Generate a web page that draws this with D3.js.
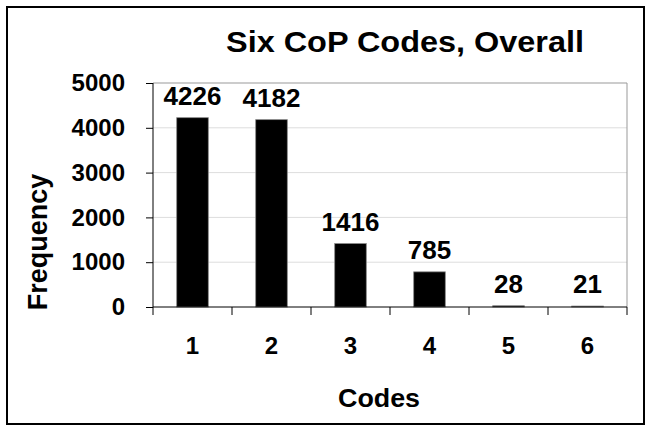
<!DOCTYPE html>
<html>
<head>
<meta charset="utf-8">
<script src="https://cdn.jsdelivr.net/npm/d3@7"></script>
<style>
  body { margin: 0; background: #fff; }
  text { font-family: "Liberation Sans", Arial, sans-serif; font-weight: bold; fill: #000; }
</style>
</head>
<body>
<svg id="chart" width="650" height="431"></svg>
<script>
let codes = ['1', '2', '3', '4', '5', '6']
let frequency = [4226, 4182, 1416, 785, 28, 21]
let yTicks = [0, 1000, 2000, 3000, 4000, 5000]

let svg = d3.select('#chart')
let plotLeft = 153, plotRight = 627, plotTop = 83, plotBottom = 307

// outer frame
svg.append('rect')
    .attr('x', 7).attr('y', 7)
    .attr('width', 637).attr('height', 417)
    .attr('fill', '#fff')
    .attr('stroke', '#000')
    .attr('stroke-width', 2)

let x = d3.scaleBand().domain(codes).range([plotLeft, plotRight]).paddingInner(0).paddingOuter(0)
let y = d3.scaleLinear().domain([0, 5000]).range([plotBottom, plotTop])

// gridlines
svg.append('g')
    .selectAll('line')
    .data(yTicks.slice(1))
    .enter()
    .append('line')
    .attr('x1', plotLeft).attr('x2', plotRight)
    .attr('y1', d => y(d)).attr('y2', d => y(d))
    .attr('stroke', (d) => d === 5000 ? '#999' : '#ddd')
    .attr('stroke-width', 1)

// right border of plot area
svg.append('line')
    .attr('x1', plotRight).attr('x2', plotRight)
    .attr('y1', plotTop).attr('y2', plotBottom)
    .attr('stroke', '#999')

// bars
svg.append('g')
    .selectAll('rect')
    .data(frequency)
    .enter()
    .append('rect')
    .attr('x', (d, i) => x(codes[i]) + x.bandwidth() * 0.3)
    .attr('width', x.bandwidth() * 0.4)
    .attr('y', d => y(d))
    .attr('height', d => plotBottom - y(d))
    .attr('fill', '#000')
    .attr('stroke', '#888')
    .attr('stroke-width', 0.8)

// value labels
svg.append('g')
    .selectAll('text')
    .data(frequency)
    .enter()
    .append('text')
    .attr('x', (d, i) => x(codes[i]) + x.bandwidth() / 2)
    .attr('y', d => y(d) - 13)
    .attr('text-anchor', 'middle')
    .attr('font-size', '26px')
    .text(d => d)

// y axis
let yAxis = svg.append('g')
    .attr('transform', 'translate(' + plotLeft + ',0)')
    .call(d3.axisLeft(y).tickValues(yTicks).tickSize(7).tickPadding(21).tickFormat(d3.format('d')))
yAxis.select('.domain').attr('stroke', '#000').attr('d', 'M0,' + plotTop + 'V' + plotBottom)
yAxis.selectAll('.tick line').attr('stroke', '#000')
yAxis.selectAll('.tick text')
    .attr('font-size', '24px')
    .attr('font-family', '"Liberation Sans", Arial, sans-serif')
    .attr('font-weight', 'bold')
    .attr('fill', '#000')

// x axis
let xAxis = svg.append('g')
    .attr('transform', 'translate(0,' + plotBottom + ')')
    .call(d3.axisBottom(x).tickSize(0).tickPadding(30))
xAxis.select('.domain').attr('stroke', '#000').attr('d', 'M' + plotLeft + ',0H' + plotRight)
xAxis.selectAll('.tick text')
    .attr('font-size', '24px')
    .attr('font-family', '"Liberation Sans", Arial, sans-serif')
    .attr('font-weight', 'bold')
    .attr('fill', '#000')
// category boundary ticks
svg.append('g')
    .selectAll('line')
    .data(codes.concat(['end']))
    .enter()
    .append('line')
    .attr('x1', (d, i) => plotLeft + i * x.bandwidth())
    .attr('x2', (d, i) => plotLeft + i * x.bandwidth())
    .attr('y1', plotBottom).attr('y2', plotBottom + 8)
    .attr('stroke', '#000')

// title and axis titles
svg.append('text')
    .attr('x', 405).attr('y', 52)
    .attr('text-anchor', 'middle')
    .attr('font-size', '30px')
    .attr('textLength', 358)
    .attr('lengthAdjust', 'spacingAndGlyphs')
    .text('Six CoP Codes, Overall')

svg.append('text')
    .attr('x', 379).attr('y', 407)
    .attr('text-anchor', 'middle')
    .attr('font-size', '25px')
    .attr('textLength', 82)
    .attr('lengthAdjust', 'spacingAndGlyphs')
    .text('Codes')

svg.append('text')
    .attr('transform', 'translate(47,242) rotate(-90)')
    .attr('text-anchor', 'middle')
    .attr('font-size', '27px')
    .text('Frequency')
</script>
</body>
</html>
